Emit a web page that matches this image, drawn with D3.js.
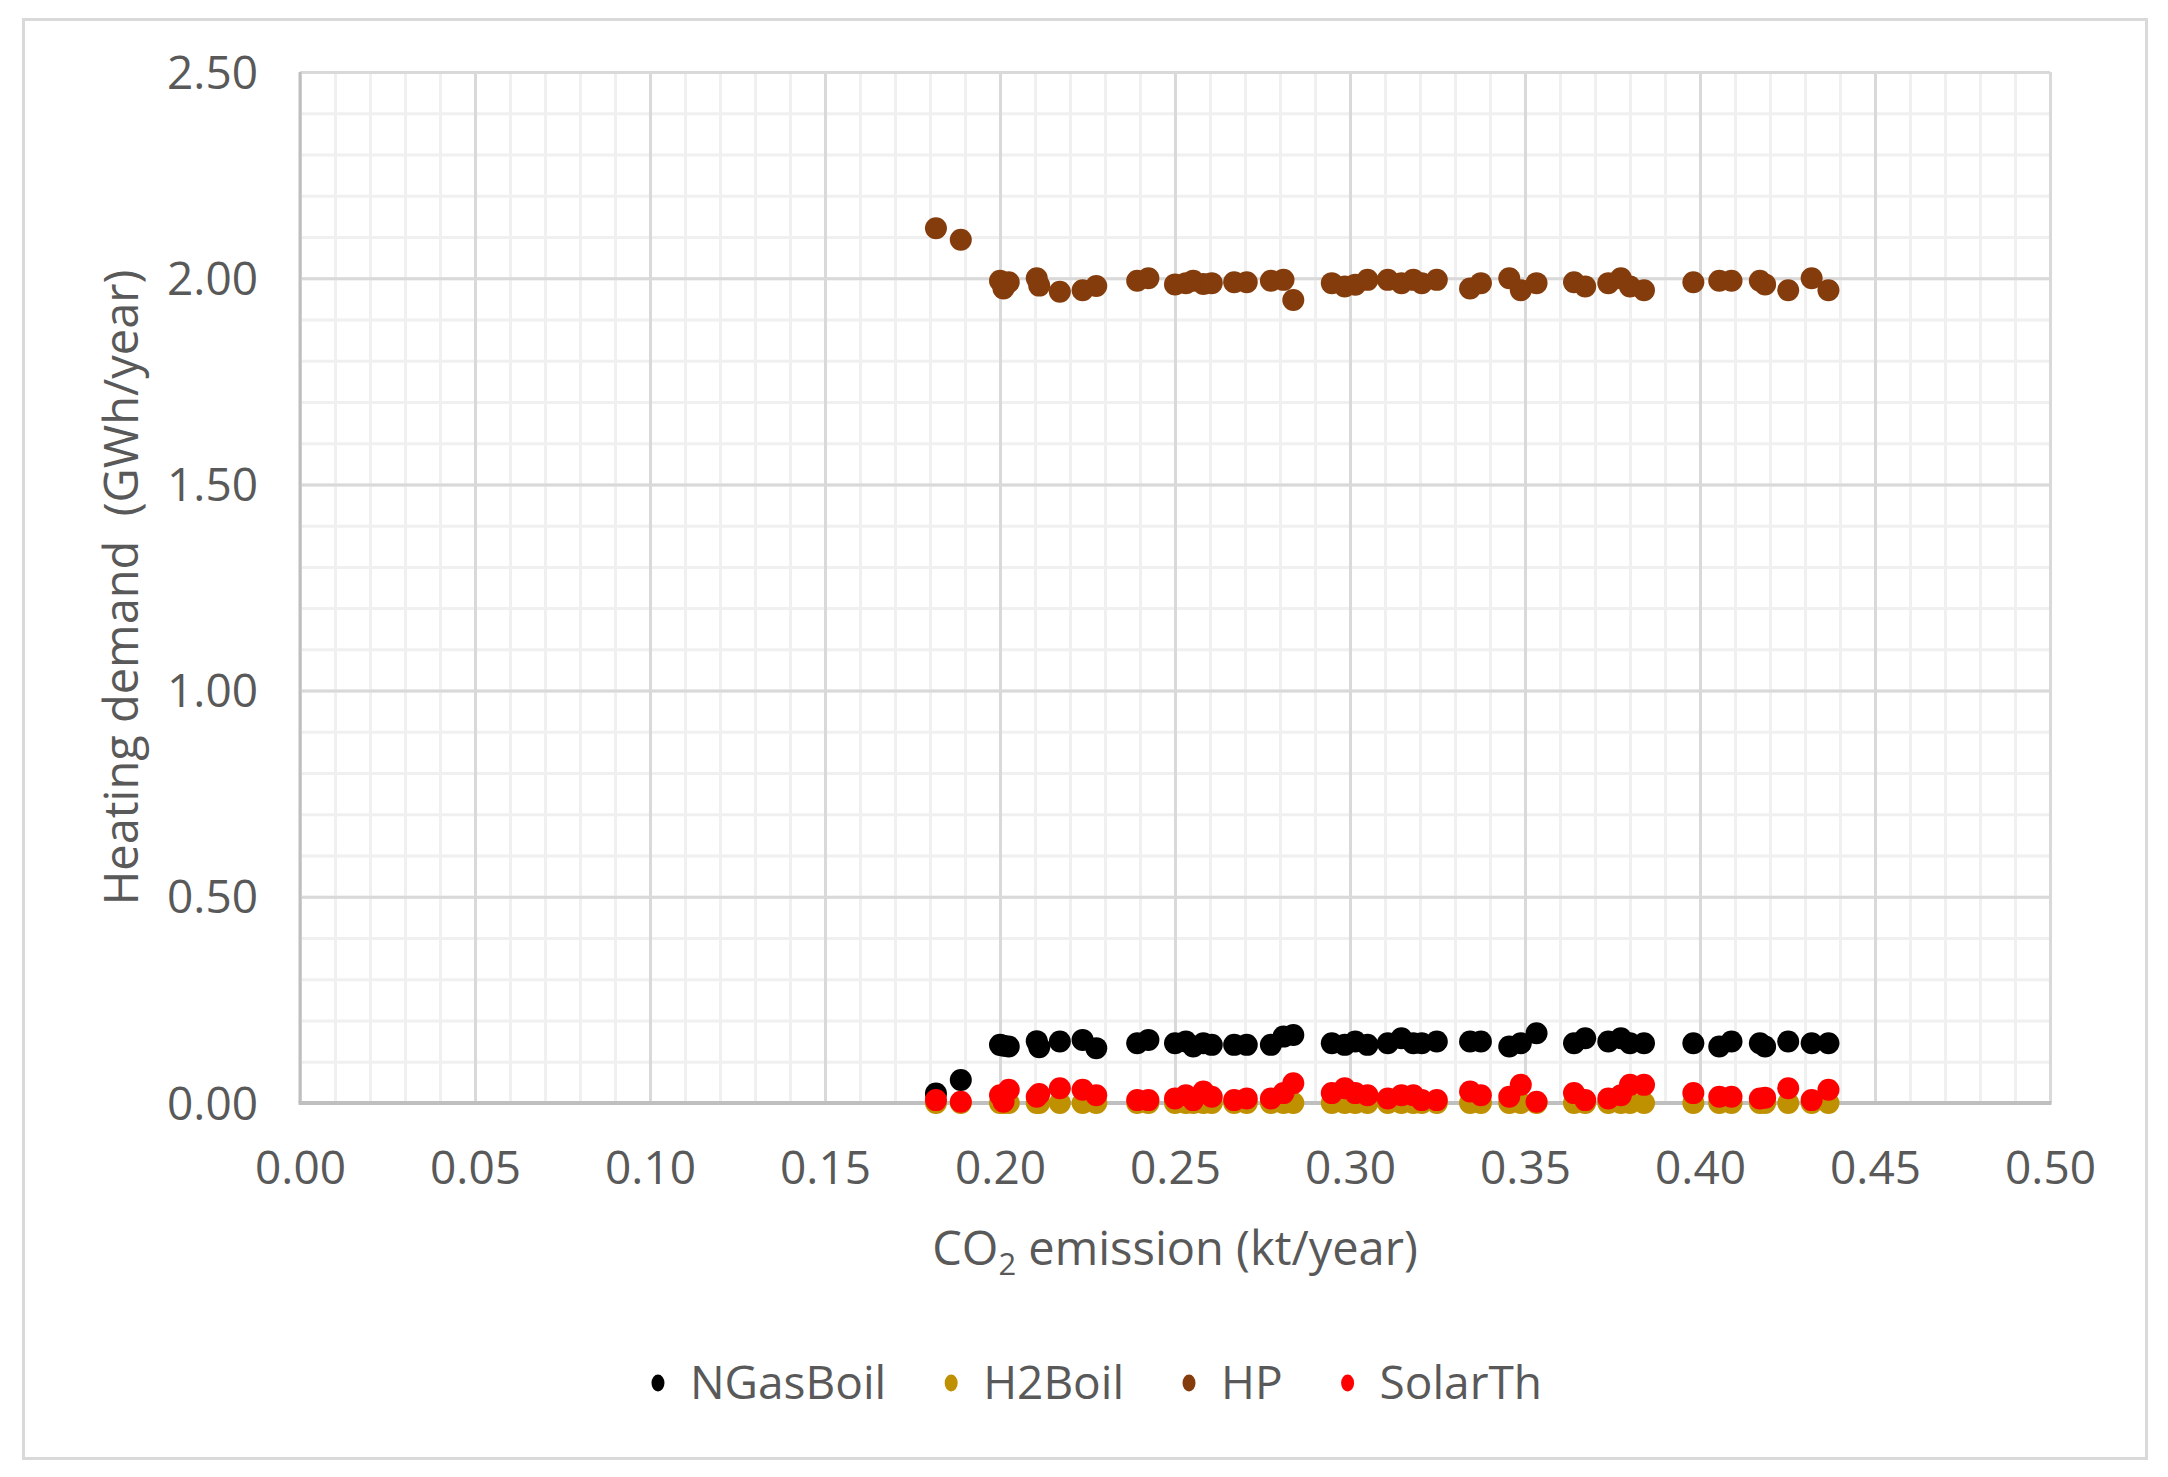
<!DOCTYPE html>
<html><head><meta charset="utf-8">
<script src="https://cdn.jsdelivr.net/npm/d3@7"></script>
<style>
body{margin:0;background:#fff}
svg{display:block}
text{font-family:"Open Sans",sans-serif;fill:#595959}
</style>
</head><body>
<svg id="chart" width="2168" height="1477"></svg>
<script>
// ---- data ----
const co2 = [0.1817,0.1888,0.2000,0.2010,0.2025,0.2105,0.2112,0.2171,0.2236,0.2275,
  0.2392,0.2424,0.2500,0.2531,0.2552,0.2581,0.2605,0.2669,0.2705,0.2774,
  0.2810,0.2838,0.2948,0.2985,0.3015,0.3050,0.3108,0.3147,0.3181,0.3205,
  0.3248,0.3343,0.3374,0.3455,0.3488,0.3533,0.3640,0.3672,0.3738,0.3774,
  0.3800,0.3840,0.3981,0.4055,0.4090,0.4171,0.4186,0.4252,0.4319,0.4367];
const nGasBoil = [0.023,0.056,0.141,0.139,0.137,0.150,0.135,0.149,0.153,0.133,
  0.145,0.153,0.145,0.149,0.137,0.145,0.141,0.141,0.141,0.141,
  0.161,0.165,0.145,0.141,0.149,0.141,0.145,0.157,0.145,0.145,
  0.149,0.149,0.149,0.137,0.145,0.169,0.145,0.157,0.149,0.157,
  0.145,0.145,0.145,0.137,0.149,0.145,0.137,0.149,0.145,0.145];
const h2Boil = [0,0,0,0,0,0,0,0,0,0,
  0,0,0,0,0,0,0,0,0,0,
  0,0,0,0,0,0,0,0,0,0,
  0,0,0,0,0,0,0,0,0,0,
  0,0,0,0,0,0,0,0,0,0];
const hp = [2.121,2.093,1.994,1.975,1.990,2.000,1.982,1.967,1.971,1.981,
  1.994,2.000,1.985,1.988,1.994,1.986,1.988,1.990,1.990,1.994,
  1.996,1.947,1.988,1.980,1.984,1.996,1.996,1.988,1.996,1.988,
  1.996,1.975,1.988,2.000,1.971,1.988,1.990,1.980,1.988,2.000,
  1.980,1.971,1.990,1.994,1.994,1.994,1.985,1.971,2.000,1.971];
const solarTh = [0.007,0.003,0.019,0.003,0.032,0.015,0.022,0.036,0.032,0.019,
  0.007,0.007,0.011,0.019,0.007,0.028,0.015,0.007,0.011,0.011,
  0.024,0.048,0.024,0.036,0.024,0.019,0.011,0.019,0.019,0.007,
  0.007,0.028,0.019,0.015,0.044,0.003,0.024,0.007,0.011,0.019,
  0.044,0.044,0.024,0.015,0.015,0.011,0.013,0.036,0.007,0.032];
const seriesNames = ["NGasBoil","H2Boil","HP","SolarTh"];
const seriesColors = ["#000000","#bf9000","#843c0c","#ff0000"];
const xTickLabels = [0,0.05,0.10,0.15,0.20,0.25,0.30,0.35,0.40,0.45,0.50];
const yTickLabels = [0,0.5,1.0,1.5,2.0,2.5];
const xTitle = ["CO", "2", " emission (kt/year)"];
const yTitle = "Heating demand  (GWh/year)";

// ---- layout ----
const svg = d3.select("#chart");
const L = 300, R = 2050, T = 72, B = 1103;
const x = d3.scaleLinear().domain([0, 0.5]).range([L, R]);
const y = d3.scaleLinear().domain([0, 2.5]).range([B, T]);
const FS = 46;

svg.append("rect").attr("x",0).attr("y",0).attr("width",2168).attr("height",1477).attr("fill","#fff");
svg.append("rect").attr("x",23.5).attr("y",19.5).attr("width",2123).attr("height",1439)
  .attr("fill","none").attr("stroke","#d9d9d9").attr("stroke-width",3);

const xMinor = d3.range(0, 51).map(i => i / 100);
const yMinor = d3.range(0, 26).map(i => i / 10);

function grid(g, axis, color, w) {
  g.call(axis);
  g.select(".domain").remove();
  g.selectAll(".tick line").attr("stroke", color).attr("stroke-width", w);
  g.selectAll(".tick text").remove();
}
// minor grid
grid(svg.append("g").attr("transform", `translate(0,${B})`),
  d3.axisBottom(x).tickValues(xMinor).tickSize(-(B - T)).tickFormat(""), "#f0f0f0", 3);
grid(svg.append("g").attr("transform", `translate(${L},0)`),
  d3.axisLeft(y).tickValues(yMinor).tickSize(-(R - L)).tickFormat(""), "#f0f0f0", 3);
// major grid
grid(svg.append("g").attr("transform", `translate(0,${B})`),
  d3.axisBottom(x).tickValues(xTickLabels).tickSize(-(B - T)).tickFormat(""), "#d9d9d9", 3);
grid(svg.append("g").attr("transform", `translate(${L},0)`),
  d3.axisLeft(y).tickValues(yTickLabels).tickSize(-(R - L)).tickFormat(""), "#d9d9d9", 3);

// axes lines
svg.append("line").attr("x1", L).attr("x2", L).attr("y1", T).attr("y2", B)
  .attr("stroke", "#bfbfbf").attr("stroke-width", 3);
svg.append("line").attr("x1", L - 1.5).attr("x2", R + 1.5).attr("y1", B).attr("y2", B)
  .attr("stroke", "#bfbfbf").attr("stroke-width", 4);

// tick labels
const xAx = svg.append("g").attr("transform", `translate(0,${B})`)
  .call(d3.axisBottom(x).tickValues(xTickLabels).tickFormat(d3.format(".2f")).tickSize(0));
xAx.select(".domain").remove();
xAx.selectAll("text").attr("y", 65).attr("dy", "0.35em")
  .style("font-size", FS + "px").style("font-family", '"Open Sans",sans-serif').attr("fill", "#595959");

const yAx = svg.append("g").attr("transform", `translate(${L},0)`)
  .call(d3.axisLeft(y).tickValues(yTickLabels).tickFormat(d3.format(".2f")).tickSize(0));
yAx.select(".domain").remove();
yAx.selectAll("text").attr("x", -42).attr("dy", "0.35em")
  .style("font-size", FS + "px").style("font-family", '"Open Sans",sans-serif').attr("fill", "#595959");

// axis titles
const xt = svg.append("text").attr("x", (L + R) / 2).attr("y", 1249).attr("dy", "0.35em")
  .attr("text-anchor", "middle").style("font-size", "47px");
xt.append("tspan").text(xTitle[0]);
xt.append("tspan").text(xTitle[1]).attr("dy", "0.3em").style("font-size", "31px");
xt.append("tspan").text(xTitle[2]).attr("dy", "-0.2em");

svg.append("text").attr("transform", `translate(122,${(T + B) / 2}) rotate(-90)`)
  .attr("text-anchor", "middle").attr("dy", "0.35em").style("font-size", "47px")
  .style("white-space", "pre").text(yTitle);

// points
const seriesVals = [nGasBoil, h2Boil, hp, solarTh];
const plot = svg.append("g");
seriesVals.forEach((vals, si) => {
  plot.append("g").selectAll("circle")
    .data(co2.map((c, i) => [c, vals[i]]))
    .join("circle")
    .attr("cx", d => x(d[0])).attr("cy", d => y(d[1]))
    .attr("r", 11).attr("fill", seriesColors[si]);
});

// legend
const lg = svg.append("g");
let cx = 0;
const items = [];
seriesNames.forEach((n, i) => {
  const g = lg.append("g");
  g.append("ellipse").attr("cx", cx).attr("cy", 0).attr("rx", 6.5).attr("ry", 8.5).attr("fill", seriesColors[i]);
  const t = g.append("text").attr("x", cx + 32).attr("dy", "0.35em").style("font-size", FS + "px").text(n);
  const w = t.node().getComputedTextLength();
  cx = cx + 32 + w + 65;
});
const total = cx - 65;
lg.attr("transform", `translate(${1100 - total / 2},1383)`);
</script>
</body></html>
